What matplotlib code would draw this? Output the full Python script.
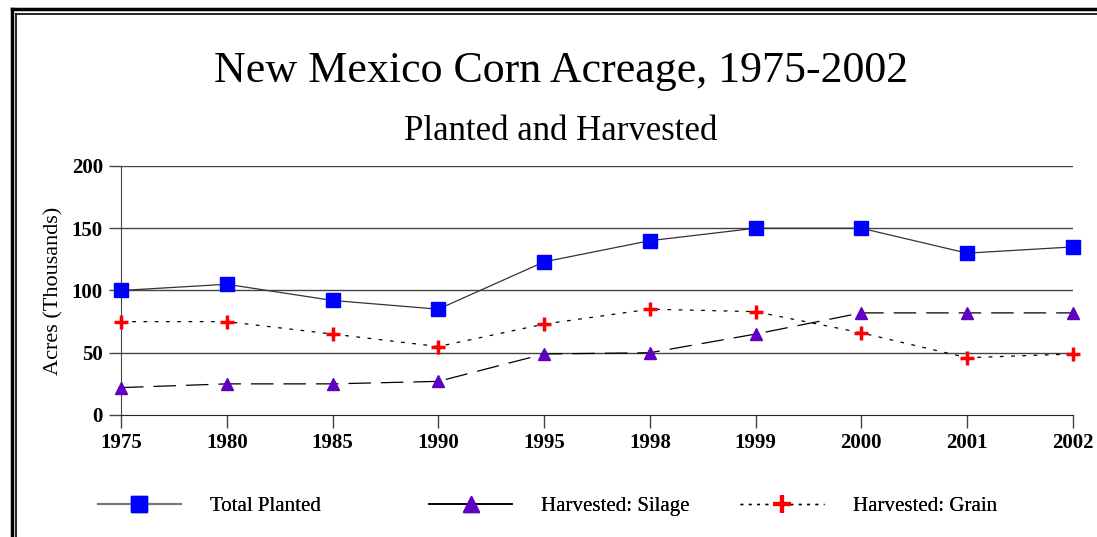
import matplotlib
matplotlib.use("Agg")
import matplotlib.pyplot as plt
from matplotlib.lines import Line2D

plt.rcParams['font.family'] = ['Liberation Serif', 'DejaVu Serif']

years = ["1975", "1980", "1985", "1990", "1995", "1998", "1999", "2000", "2001", "2002"]
total_planted = [100, 105, 92, 85, 123, 140, 150, 150, 130, 135]
harvested_silage = [22, 25, 25, 27, 49, 50, 65, 82, 82, 82]
harvested_grain = [75, 75, 65, 55, 73, 85, 83, 66, 46, 49]
yticks = [0, 50, 100, 150, 200]
series_names = ['Total Planted', 'Harvested: Silage', 'Harvested: Grain']

fig = plt.figure(figsize=(10.97, 5.37), dpi=100)
ax = fig.add_axes([0.1103, 0.2272, 0.8677, 0.4637])

x = list(range(len(years)))

ax.plot(x, total_planted, color='#333333', lw=0.9, marker='s', ms=10,
        mfc='#0000ff', mec='#0000ff', zorder=3, clip_on=False)
ax.plot(x, harvested_silage, color='black', lw=0.9, dashes=(18, 8), marker='^', ms=9,
        mfc='#6000c0', mec='#6000c0', zorder=3, clip_on=False)
ax.plot(x, harvested_grain, color='black', lw=0.9, dashes=(3, 6), zorder=3, clip_on=False)
ax.plot(x, harvested_grain, ls='none', marker='+', ms=10, mew=2.5, color='#ff0000',
        zorder=4, clip_on=False)

ax.set_xlim(0, len(years) - 1)
ax.set_ylim(0, 200)
ax.set_xticks(x)
ax.set_xticklabels(years)
ax.set_yticks(yticks)
for v in yticks[1:]:
    ax.axhline(v, color='#444444', lw=1.0, zorder=1)

for s in ['top', 'right']:
    ax.spines[s].set_visible(False)
ax.spines['left'].set_color('#444444')
ax.spines['bottom'].set_color('#222222')
ax.tick_params(axis='both', direction='out', length=9, width=1, color='#444444',
               labelsize=15, pad=4)
for lab in ax.get_xticklabels() + ax.get_yticklabels():
    lab.set_fontweight('bold')

ax.set_ylabel('Acres (Thousands)', fontsize=16, labelpad=6)

fig.text(0.511, 0.868, 'New Mexico Corn Acreage, 1975-2002', ha='center', va='center', fontsize=31.7)
fig.text(0.511, 0.756, 'Planted and Harvested', ha='center', va='center', fontsize=25)

handles = [
    Line2D([], [], color='#777777', lw=1.5, marker='s', ms=11, mfc='#0000ff', mec='#0000ff'),
    Line2D([], [], color='black', lw=1.2, marker='^', ms=11, mfc='#6000c0', mec='#6000c0'),
    Line2D([], [], color='black', lw=1.0, dashes=(2, 4), marker='+', ms=13, mew=3, mec='#ff0000'),
]
legend_x = [0.089, 0.391, 0.675]
for h, name, lx in zip(handles, series_names, legend_x):
    leg = fig.legend([h], [name], loc='center left', bbox_to_anchor=(lx, 0.057),
                     frameon=False, fontsize=15, handlelength=4.0, handletextpad=1.4,
                     borderpad=0, borderaxespad=0)
    fig.add_artist(leg)

# double border along top and left
fig.add_artist(Line2D([0.0105, 1.0], [0.983, 0.983], transform=fig.transFigure, color='black', lw=2.5))
fig.add_artist(Line2D([0.0105, 0.0105], [0.0, 0.983], transform=fig.transFigure, color='black', lw=2.5))
fig.add_artist(Line2D([0.0142, 1.0], [0.974, 0.974], transform=fig.transFigure, color='black', lw=1.2))
fig.add_artist(Line2D([0.0142, 0.0142], [0.0, 0.974], transform=fig.transFigure, color='black', lw=1.2))

fig.savefig('out.png', dpi=100)
